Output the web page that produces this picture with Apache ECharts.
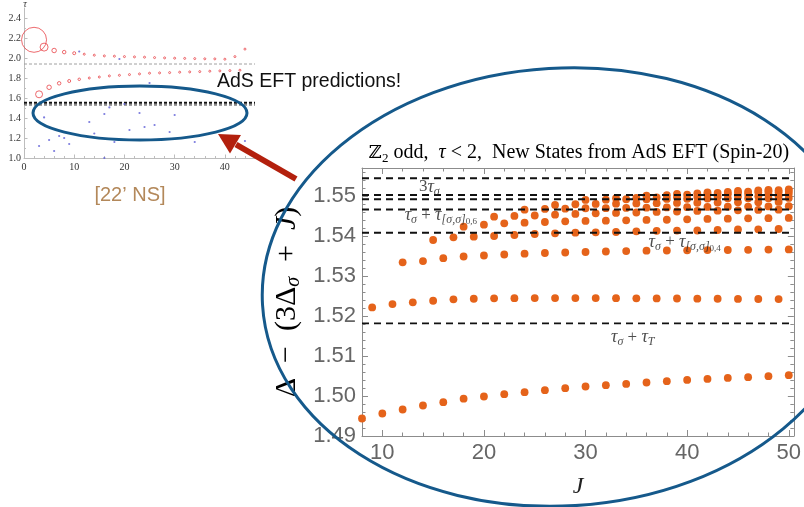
<!DOCTYPE html>
<html><head><meta charset="utf-8">
<script src="https://cdn.jsdelivr.net/npm/echarts@6/dist/echarts.min.js"></script>
<style>html,body{margin:0;padding:0;background:#fff;}#c{width:804px;height:507px;}</style>
</head><body><div id="c"></div>
<script>
// ---------------- main chart data ----------------
const xMajorTicks = [10, 20, 30, 40, 50];
const xMinorTicks = [8, 12, 14, 16, 18, 22, 24, 26, 28, 32, 34, 36, 38, 42, 44, 46, 48];
const yMajorTicks = [1.49, 1.50, 1.51, 1.52, 1.53, 1.54, 1.55];
const yMinorTicks = [1.492, 1.494, 1.496, 1.498, 1.502, 1.504, 1.506, 1.508, 1.512, 1.514, 1.516, 1.518,
  1.522, 1.524, 1.526, 1.528, 1.532, 1.534, 1.536, 1.538, 1.542, 1.544, 1.546, 1.548, 1.552, 1.554, 1.556];

const dashedLevels = [1.55445, 1.55026, 1.54919, 1.54664, 1.54083, 1.51815];

const famA_J = [8, 10, 12, 14, 16, 18, 20, 22, 24, 26, 28, 30, 32, 34, 36, 38, 40, 42, 44, 46, 48, 50];
const famA_V = [1.49437, 1.49562, 1.49662, 1.49762, 1.49845, 1.49932, 1.49988, 1.50045, 1.50095, 1.50145, 1.50195,
  1.50238, 1.50270, 1.50303, 1.50338, 1.50370, 1.50403, 1.50428, 1.50453, 1.50471, 1.50496, 1.50521];
const famB_J = [9, 11, 13, 15, 17, 19, 21, 23, 25, 27, 29, 31, 33, 35, 37, 39, 41, 43, 45, 47, 49];
const famB_V = [1.52215, 1.52298, 1.52341, 1.52381, 1.52416, 1.52431, 1.52441, 1.52446, 1.52448, 1.52449, 1.52448,
  1.52447, 1.52445, 1.52442, 1.52440, 1.52437, 1.52434, 1.52431, 1.52428, 1.52425, 1.52422];
const famC_J = [12, 14, 16, 18, 20, 22, 24, 26, 28, 30, 32, 34, 36, 38, 40, 42, 44, 46, 48, 50];
const famC_V = [1.53342, 1.53374, 1.53445, 1.53487, 1.53512, 1.53537, 1.53557, 1.53575, 1.53587, 1.53600,
  1.53612, 1.53622, 1.53632, 1.53637, 1.53642, 1.53647, 1.53650, 1.53655, 1.53660, 1.53665];
const famD_J = [15, 17, 19, 21, 23, 25, 27, 29, 31, 33, 35, 37, 39, 41, 43, 45, 47, 49];
const famD_V = [1.53900, 1.53968, 1.53983, 1.54000, 1.54025, 1.54050, 1.54068, 1.54083, 1.54093, 1.54100,
  1.54118, 1.54130, 1.54135, 1.54138, 1.54150, 1.54163, 1.54168, 1.54175];
const famE_J = [18, 20, 22, 24, 26, 28, 30, 32, 34, 36, 38, 40, 42, 44, 46, 48, 50];
const famE_V = [1.54233, 1.54283, 1.54318, 1.54333, 1.54350, 1.54368, 1.54376, 1.54383, 1.54393, 1.54401,
  1.54406, 1.54418, 1.54426, 1.54433, 1.54443, 1.54446, 1.54451];
const famF_J = [21, 23, 25, 27, 29, 31, 33, 35, 37, 39, 41, 43, 45, 47, 49];
const famF_V = [1.54483, 1.54501, 1.54513, 1.54533, 1.54551, 1.54568, 1.54576, 1.54588, 1.54601, 1.54613,
  1.54626, 1.54633, 1.54643, 1.54651, 1.54658];
const famG_J = [24, 26, 28, 30, 32, 34, 36, 38, 40, 42, 44, 46, 48, 50];
const famG_V = [1.54658, 1.54676, 1.54683, 1.54694, 1.54696, 1.54701, 1.54708, 1.54714, 1.54721, 1.54726,
  1.54731, 1.54736, 1.54739, 1.54744];
const famH_J = [27, 29, 31, 33, 35, 37, 39, 41, 43, 45, 47, 49];
const famH_V = [1.54776, 1.54794, 1.54801, 1.54809, 1.54814, 1.54821, 1.54826, 1.54831, 1.54836, 1.54841, 1.54846, 1.54851];
const famI_J = [30, 32, 34, 36, 38, 40, 42, 44, 46, 48, 50];
const famI_V = [1.54901, 1.54909, 1.54919, 1.54921, 1.54926, 1.54931, 1.54936, 1.54941, 1.54944, 1.54946, 1.54951];
const famK_J = [33, 35, 37, 39, 41, 43, 45, 47, 49];
const famK_V = [1.54944, 1.54951, 1.54964, 1.54971, 1.54976, 1.54981, 1.54986, 1.54991, 1.54994];
const famL_J = [36, 38, 40, 42, 44, 46, 48, 50];
const famL_V = [1.55009, 1.55021, 1.55031, 1.55039, 1.55044, 1.55049, 1.55051, 1.55056];
const famM_J = [39, 41, 43, 45, 47, 49];
const famM_V = [1.55051, 1.55064, 1.55076, 1.55084, 1.55091, 1.55096];
const famN_J = [42, 44, 46, 48, 50];
const famN_V = [1.55089, 1.55101, 1.55111, 1.55119, 1.55126];
const famO_J = [45, 47, 49];
const famO_V = [1.55126, 1.55139, 1.55146];
const famP_J = [48, 50];
const famP_V = [1.55152, 1.55162];

// label anchors for the dashed-line annotations [J, value]
const annoAnchors = [[13.6, 1.55227], [12.2, 1.54520], [36.2, 1.53850], [32.5, 1.51472]];
const annoTexts = ['{r|3}{t|τ}{s|σ}', '{t|τ}{s|σ}{r| + }{t|τ}{s|[σ,σ]}{ss|0,6}', '{t|τ}{s|σ}{r| + }{t|τ}{s|[σ,σ]}{ss|0,4}', '{t|τ}{s|σ}{r| + }{t|τ}{s|T}'];

// ---------------- inset chart data ----------------
const insetXTicks = [0, 10, 20, 30, 40];
const insetXMinor = [2, 4, 6, 8, 12, 14, 16, 18, 22, 24, 26, 28, 32, 34, 36, 38, 42, 44];
const insetYTicks = [1.0, 1.2, 1.4, 1.6, 1.8, 2.0, 2.2, 2.4];
const insetYMinor = [1.1, 1.3, 1.5, 1.7, 1.9, 2.1, 2.3];
const insetUpperJ = [2, 4, 6, 8, 10, 12, 14, 16, 18, 20, 22, 24, 26, 28, 30, 32, 34, 36, 38, 40, 42, 44];
const insetUpperTau = [2.182, 2.109, 2.075, 2.059, 2.048, 2.038, 2.028, 2.021, 2.018, 2.014, 2.011, 2.008, 2.004,
  2.001, 1.998, 1.996, 1.994, 1.992, 1.991, 1.988, 2.014, 2.089];
const insetLowerJ = [3, 5, 7, 9, 11, 13, 15, 17, 19, 21, 23, 25, 27, 29, 31, 33, 35, 37, 39, 41, 43];
const insetLowerTau = [1.637, 1.707, 1.747, 1.770, 1.787, 1.800, 1.810, 1.821, 1.827, 1.834, 1.841, 1.848, 1.851,
  1.854, 1.858, 1.861, 1.864, 1.868, 1.871, 1.874, 1.878];
const insetBlueJ = [3, 4, 5, 6, 7, 8, 9, 11, 13, 14, 16, 16, 17, 18, 19, 20, 21, 23, 24, 25, 26, 29, 30, 34, 44];
const insetBlueTau = [1.12, 1.406, 1.18, 1.07, 1.22, 1.20, 1.14, 2.065, 1.36, 1.245, 1.44, 1.0, 1.506, 1.16, 1.99,
  1.54, 1.28, 1.45, 1.31, 1.75, 1.33, 1.26, 1.43, 1.16, 1.17];
const insetDashGray = [1.94, 1.525];
const insetDashBlack = [1.556, 1.541];

// ---------------- styles ----------------
const ORANGE = '#e5631a';
const FRAME = '#8c8c8c';
const SERIF = '"Liberation Serif", "DejaVu Serif", serif';
const SANS = '"Liberation Sans", Arial, sans-serif';
const insetUpperSizes = [25, 8, 4.5, 3.5, 3];
const insetLowerSizes = [7, 4.5, 3.5, 3, 2.5];
const MAIN_XMIN = 8, MAIN_XMAX = 50.5, IN_XMIN = 0, IN_XMAX = 46;

function zip(a, b) { return a.map((v, i) => [v, b[i]]); }

function mainX(position, ticks, len, showLine, showLabel) {
  return {
    gridIndex: 0, type: 'value', position: position, min: MAIN_XMIN, max: MAIN_XMAX,
    axisLine: {show: showLine, onZero: false, lineStyle: {color: FRAME, width: 1}},
    axisTick: {show: true, inside: true, length: len, customValues: ticks, lineStyle: {color: FRAME, width: 1}},
    axisLabel: {show: showLabel, customValues: ticks, margin: 6, color: '#666', fontSize: 22, fontFamily: SANS},
    splitLine: {show: false}
  };
}
function mainY(position, ticks, len, showLine, showLabel) {
  return {
    gridIndex: 0, type: 'value', position: position, min: 1.49, max: 1.557,
    axisLine: {show: showLine, onZero: false, lineStyle: {color: FRAME, width: 1}},
    axisTick: {show: true, inside: true, length: len, customValues: ticks, lineStyle: {color: FRAME, width: 1}},
    axisLabel: {show: showLabel, customValues: ticks, margin: 6, color: '#666', fontSize: 22, fontFamily: SANS,
      formatter: v => v.toFixed(2)},
    splitLine: {show: false}
  };
}

const families = [
  [famA_J, famA_V], [famB_J, famB_V], [famC_J, famC_V], [famD_J, famD_V], [famE_J, famE_V],
  [famF_J, famF_V], [famG_J, famG_V], [famH_J, famH_V], [famI_J, famI_V], [famK_J, famK_V],
  [famL_J, famL_V], [famM_J, famM_V], [famN_J, famN_V], [famO_J, famO_V], [famP_J, famP_V]
];

const series = families.map(f => ({
  type: 'scatter', xAxisIndex: 0, yAxisIndex: 0, symbolSize: 7.8, clip: false,
  itemStyle: {color: ORANGE, opacity: 1},
  data: zip(f[0], f[1]),
  z: 3
}));

// dashed reference lines (drawn through the axes' scales)
dashedLevels.forEach(v => {
  series.push({
    type: 'line', xAxisIndex: 0, yAxisIndex: 0, silent: true, symbol: 'none', z: 10,
    lineStyle: {color: '#111', type: [7, 5], width: 1.9},
    data: [[MAIN_XMIN, v], [MAIN_XMAX, v]]
  });
});

const annoRich = {
  r: {fontFamily: SERIF, fontSize: 17, color: '#222', lineHeight: 22},
  t: {fontFamily: SERIF, fontStyle: 'italic', fontSize: 18, color: '#222', lineHeight: 22},
  s: {fontFamily: SERIF, fontStyle: 'italic', fontSize: 12, color: '#222', lineHeight: 13, verticalAlign: 'bottom'},
  ss: {fontFamily: SERIF, fontSize: 9, color: '#222', lineHeight: 8, verticalAlign: 'bottom'}
};
series.push({
  type: 'scatter', xAxisIndex: 0, yAxisIndex: 0, symbolSize: 0, silent: true, z: 11,
  data: annoAnchors.map((a, i) => ({
    value: a,
    label: {show: true, position: 'right', distance: 0, formatter: annoTexts[i], rich: annoRich}
  }))
});

// inset series
insetDashGray.forEach(v => {
  series.push({
    type: 'line', xAxisIndex: 4, yAxisIndex: 4, silent: true, symbol: 'none', z: 2,
    lineStyle: {color: '#a0a0a0', type: [3, 2], width: 1},
    data: [[IN_XMIN, v], [IN_XMAX, v]]
  });
});
insetDashBlack.forEach(v => {
  series.push({
    type: 'line', xAxisIndex: 4, yAxisIndex: 4, silent: true, symbol: 'none', z: 2,
    lineStyle: {color: '#111', type: [3, 2], width: 1.2},
    data: [[IN_XMIN, v], [IN_XMAX, v]]
  });
});
series.push({
  type: 'scatter', xAxisIndex: 4, yAxisIndex: 4,
  symbolSize: (v, p) => insetUpperSizes[p.dataIndex] || 2,
  itemStyle: {color: 'rgba(0,0,0,0)', borderColor: '#e8454a', borderWidth: 1},
  data: zip(insetUpperJ, insetUpperTau)
});
series.push({
  type: 'scatter', xAxisIndex: 4, yAxisIndex: 4,
  symbolSize: (v, p) => insetLowerSizes[p.dataIndex] || 2,
  itemStyle: {color: 'rgba(0,0,0,0)', borderColor: '#e8454a', borderWidth: 1},
  data: zip(insetLowerJ, insetLowerTau)
});
series.push({
  type: 'scatter', xAxisIndex: 4, yAxisIndex: 4, symbolSize: 2.2,
  itemStyle: {color: '#5b5bd6'},
  data: zip(insetBlueJ, insetBlueTau)
});

function insetX(ticks, len, showLine, showLabel) {
  return {
    gridIndex: 1, type: 'value', position: 'bottom', min: IN_XMIN, max: IN_XMAX,
    axisLine: {show: showLine, onZero: false, lineStyle: {color: '#bdbdbd', width: 1}},
    axisTick: {show: true, inside: true, length: len, customValues: ticks, lineStyle: {color: '#bdbdbd'}},
    axisLabel: {show: showLabel, customValues: ticks, margin: 4, color: '#333', fontSize: 10, fontFamily: SERIF},
    splitLine: {show: false}
  };
}
function insetY(ticks, len, showLine, showLabel) {
  return {
    gridIndex: 1, type: 'value', position: 'left', min: 1.0, max: 2.5,
    axisLine: {show: showLine, onZero: false, lineStyle: {color: '#bdbdbd', width: 1}},
    axisTick: {show: true, inside: true, length: len, customValues: ticks, lineStyle: {color: '#bdbdbd'}},
    axisLabel: {show: showLabel, customValues: ticks, margin: 3, color: '#333', fontSize: 10, fontFamily: SERIF,
      formatter: v => v.toFixed(1)},
    splitLine: {show: false}
  };
}

const titleRich = {
  r: {fontFamily: SERIF, fontSize: 20, color: '#222', lineHeight: 24},
  z: {fontFamily: '"DejaVu Serif", serif', fontSize: 18, color: '#222', lineHeight: 24},
  t: {fontFamily: SERIF, fontStyle: 'italic', fontSize: 20, color: '#222', lineHeight: 24},
  s: {fontFamily: SERIF, fontSize: 13, color: '#222', lineHeight: 15, verticalAlign: 'bottom'}
};
const ylabRich = {
  r: {fontFamily: SERIF, fontSize: 30, color: '#222', lineHeight: 34},
  i: {fontFamily: SERIF, fontStyle: 'italic', fontSize: 30, color: '#222', lineHeight: 34},
  s: {fontFamily: SERIF, fontStyle: 'italic', fontSize: 20, color: '#222', lineHeight: 22, verticalAlign: 'bottom'}
};

const BLUE = '#15598b';
const RED = '#b3200d';

const option = {
  animation: false,
  backgroundColor: '#ffffff',
  grid: [
    {left: 362, top: 168, width: 433, height: 268, containLabel: false},
    {left: 24, top: 8, width: 231, height: 150, containLabel: false}
  ],
  xAxis: [
    mainX('bottom', xMajorTicks, 6, true, true),
    mainX('bottom', xMinorTicks, 3.5, false, false),
    mainX('top', xMajorTicks, 6, true, false),
    mainX('top', xMinorTicks, 3.5, false, false),
    insetX(insetXTicks, 3.5, true, true),
    insetX(insetXMinor, 2, false, false)
  ],
  yAxis: [
    mainY('left', yMajorTicks, 6, true, true),
    mainY('left', yMinorTicks, 3.5, false, false),
    mainY('right', yMajorTicks, 6, true, false),
    mainY('right', yMinorTicks, 3.5, false, false),
    insetY(insetYTicks, 3.5, true, true),
    insetY(insetYMinor, 2, false, false)
  ],
  series: series,
  graphic: {elements: [
    {type: 'text', x: 579, y: 153, z: 20, style: {
      text: '{z|ℤ}{s|2}{r| odd,  }{t|τ}{r| < 2,  New States from AdS EFT (Spin-20)}',
      rich: titleRich, align: 'center', verticalAlign: 'middle', textAlign: 'center', textVerticalAlign: 'middle'}},
    {type: 'text', x: 287, y: 302, rotation: Math.PI / 2, z: 20, style: {
      text: '{r|Δ  −  (3Δ}{s|σ}{r|  +  }{i|J}{r|)}',
      rich: ylabRich, align: 'center', verticalAlign: 'middle', textAlign: 'center', textVerticalAlign: 'middle'}},
    {type: 'text', x: 578, y: 487, z: 20, style: {
      text: 'J', font: 'italic 24px ' + SERIF, fill: '#222',
      align: 'center', verticalAlign: 'middle', textAlign: 'center', textVerticalAlign: 'middle'}},
    {type: 'text', x: 25, y: 4, z: 20, style: {
      text: 'τ', font: 'italic 10px ' + SERIF, fill: '#333',
      align: 'center', verticalAlign: 'middle', textAlign: 'center', textVerticalAlign: 'middle'}},
    {type: 'text', x: 217, y: 82, z: 20, style: {
      text: 'AdS EFT predictions!', font: '19.5px ' + SANS, fill: '#111',
      align: 'left', verticalAlign: 'middle', textAlign: 'left', textVerticalAlign: 'middle'}},
    {type: 'text', x: 130, y: 195, z: 20, style: {
      text: '[22’ NS]', font: '20px ' + SANS, fill: '#b3885a',
      align: 'center', verticalAlign: 'middle', textAlign: 'center', textVerticalAlign: 'middle'}},
    {type: 'ellipse', x: 140, y: 113, z: 30, shape: {cx: 0, cy: 0, rx: 107, ry: 27},
      style: {fill: 'none', stroke: BLUE, lineWidth: 3}},
    {type: 'ellipse', x: 562, y: 287, rotation: 0.06, z: 30, shape: {cx: 0, cy: 0, rx: 300, ry: 219},
      style: {fill: 'none', stroke: BLUE, lineWidth: 3}},
    {type: 'line', z: 31, shape: {x1: 296, y1: 179, x2: 236, y2: 144.5},
      style: {stroke: RED, lineWidth: 6}},
    {type: 'polygon', z: 31, shape: {points: [[218, 134], [241, 135], [230, 153.5]]},
      style: {fill: RED}}
  ]}
};

const chart = echarts.init(document.getElementById('c'), null, {renderer: 'canvas', width: 804, height: 507});
chart.setOption(option);
</script>
</body></html>
